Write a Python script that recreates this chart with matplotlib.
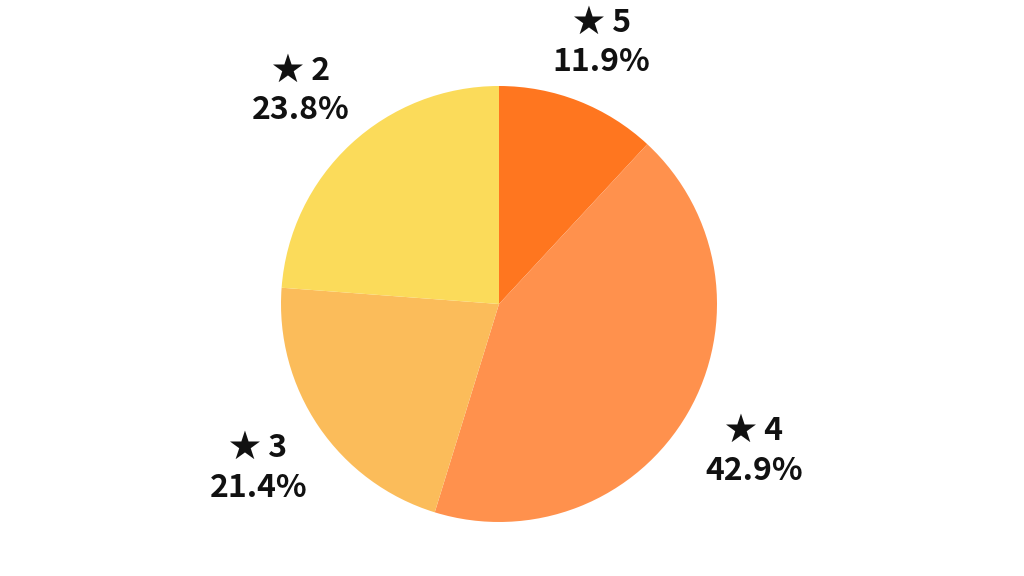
import matplotlib.pyplot as plt
import numpy as np

# rating distribution (counts), drawn clockwise from the top
labels = ['★ 5', '★ 4', '★ 3', '★ 2']
counts = [5, 18, 9, 10]
colors = ['#FF761F', '#FF914D', '#FBBC5A', '#FBDB5A']

plt.rcParams['font.family'] = ['Noto Sans CJK JP', 'DejaVu Sans']

fig = plt.figure(figsize=(10.24, 5.76), dpi=100, facecolor='white')
# square axes centred where the pie sits
cx, cy, r = 499, 304, 218
ax = fig.add_axes([(cx - r) / 1024, (576 - cy - r) / 576, 2 * r / 1024, 2 * r / 576])

total = sum(counts)
wedges, texts = ax.pie(counts, colors=colors, startangle=90, counterclock=False,
                       radius=1, labels=[''] * len(counts))

# label distance from centre (in radii), one per wedge
label_dist = [1.29, 1.35, 1.335, 1.335]
for w, lab, c, d in zip(wedges, labels, counts, label_dist):
    ang = np.deg2rad((w.theta1 + w.theta2) / 2)
    ax.text(d * np.cos(ang), d * np.sin(ang), f'{lab}\n{c / total * 100:.1f}%',
            ha='center', va='center', fontsize=23, fontweight='bold',
            color='#111111', linespacing=1.3)

ax.set_xlim(-1, 1)
ax.set_ylim(-1, 1)
ax.set_aspect('equal')
ax.axis('off')

fig.savefig('out.png', dpi=100, facecolor='white')
